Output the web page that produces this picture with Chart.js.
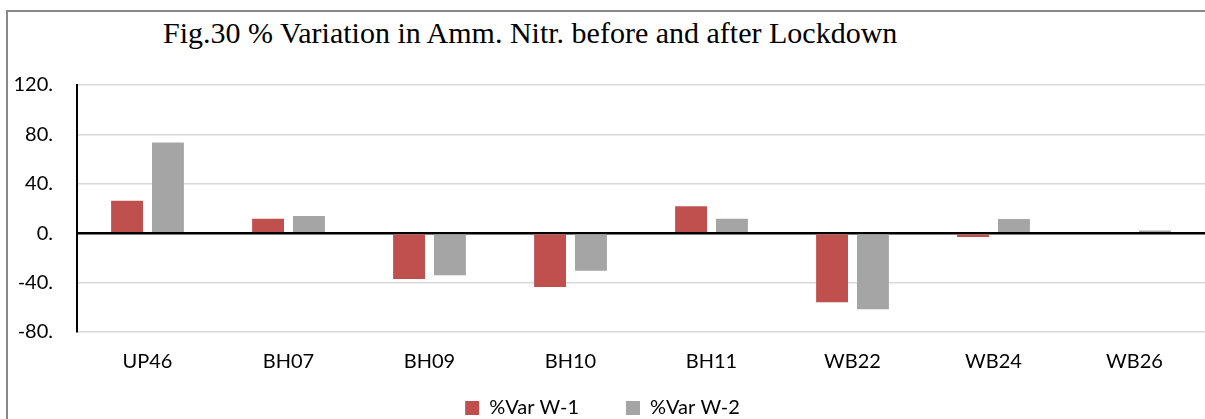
<!DOCTYPE html>
<html>
<head>
<meta charset="utf-8">
<script src="https://cdn.jsdelivr.net/npm/chart.js@4/dist/chart.umd.min.js"></script>
<style>
    html, body { margin: 0; padding: 0; background: #ffffff; }
    body { width: 1205px; height: 419px; position: relative; overflow: hidden; }
    /* outer frame of the figure, runs off the right and bottom edges */
    .frame {
        position: absolute; left: 6px; top: 10px; width: 1230px; height: 440px;
        border: 2px solid #888888; box-sizing: border-box;
    }
    .title {
        position: absolute; left: 163px; top: 18px;
        font-family: 'Liberation Serif', serif; font-size: 30px; line-height: 30px; color: #000;
        white-space: nowrap;
    }
    #wrap { position: absolute; left: 0; top: 0; width: 1205px; height: 419px; }
</style>
</head>
<body>
<div class="frame"></div>
<div class="title">Fig.30 % Variation in Amm. Nitr. before and after Lockdown</div>
<div id="wrap"><canvas id="chart"></canvas></div>
<script>
// ---- data ----
const categories = ['UP46', 'BH07', 'BH09', 'BH10', 'BH11', 'WB22', 'WB24', 'WB26'];
const varW1 = [26.2, 11.6, -37.0, -43.5, 21.9, -56.0, -3.0, 0.0];
const varW2 = [73.5, 14.0, -34.0, -30.5, 11.6, -61.6, 11.4, 2.2];
const seriesNames = ['%Var W-1', '%Var W-2'];
const yTicks = [-80, -40, 0, 40, 80, 120];

const uiFont = "Lato, 'Open Sans', sans-serif";

new Chart(document.getElementById('chart'), {
    type: 'bar',
    data: {
        labels: categories,
        datasets: [{
            label: seriesNames[0],
            data: varW1,
            backgroundColor: '#c0504d',
            categoryPercentage: 0.58,
            barPercentage: 0.78
        }, {
            label: seriesNames[1],
            data: varW2,
            backgroundColor: '#a5a5a5',
            categoryPercentage: 0.58,
            barPercentage: 0.78
        }]
    },
    options: {
        responsive: true,
        maintainAspectRatio: false,
        animation: false,
        layout: { padding: { left: 0, right: 0, top: 85, bottom: 0 } },
        plugins: {
            title: { display: false },
            tooltip: { enabled: false },
            legend: {
                position: 'bottom',
                maxHeight: 27,
                labels: {
                    boxWidth: 14,
                    boxHeight: 14,
                    padding: 6,
                    color: '#000',
                    font: { size: 20, family: uiFont },
                    // wider gap between the two entries, like the original
                    generateLabels(chart) {
                        const items = Chart.defaults.plugins.legend.labels.generateLabels(chart);
                        items.forEach((it, i) => {
                            it.lineWidth = 0;
                            if (i < items.length - 1) it.text = it.text + ' '.repeat(8);
                        });
                        return items;
                    }
                }
            }
        },
        scales: {
            x: {
                grid: { display: false },
                border: { display: false },
                ticks: {
                    color: '#000',
                    padding: 10,
                    font: { size: 20, family: uiFont }
                },
                afterFit(scale) { scale.height = 60; }
            },
            y: {
                min: yTicks[0],
                max: yTicks[yTicks.length - 1],
                afterBuildTicks(scale) { scale.ticks = yTicks.map(v => ({ value: v })); },
                border: { color: '#000', width: 2 },
                grid: {
                    drawTicks: false,
                    color: ctx => ctx.tick && ctx.tick.value === 0 ? '#000000' : '#d9d9d9',
                    lineWidth: ctx => ctx.tick && ctx.tick.value === 0 ? 2.5 : 1.5
                },
                ticks: {
                    color: '#000',
                    padding: 24,
                    font: { size: 20, family: uiFont },
                    callback: v => v + '.'
                },
                afterFit(scale) { scale.width = 77; }
            }
        }
    }
});
</script>
</body>
</html>
